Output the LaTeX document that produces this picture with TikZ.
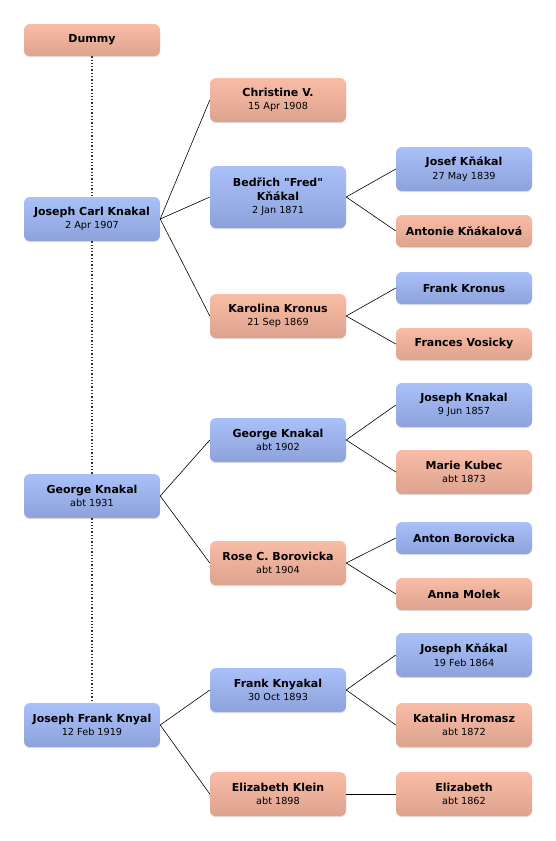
\documentclass[tikz,border=0pt]{standalone}
\usepackage{fontspec}
\setmainfont{DejaVu Sans}
\usetikzlibrary{shadows}
\definecolor{pinktop}{HTML}{F9BCA6}
\definecolor{pinkbot}{HTML}{DDA38E}
\definecolor{bluetop}{HTML}{AAC0F8}
\definecolor{bluebot}{HTML}{8DA2DB}
\definecolor{spinegray}{HTML}{333333}

\newcommand{\who}[2]{#1\\{\fontsize{9.7}{12}\selectfont\mdseries #2}}

\begin{document}
\begin{tikzpicture}[
  x=1pt, y=-1pt,
  person/.style={rounded corners=6pt, minimum width=136pt, minimum height=44pt, align=center, inner sep=2pt, text=black, font=\fontsize{11}{13.5}\selectfont\bfseries, drop shadow={shadow xshift=0pt, shadow yshift=-1.2pt, opacity=0.25}},
  female/.style={person, top color=pinktop, bottom color=pinkbot},
  male/.style={person, top color=bluetop, bottom color=bluebot},
  short/.style={minimum height=32pt},
  tall/.style={minimum height=62pt},
  link/.style={draw=black, line width=0.6pt},
  spine/.style={draw=spinegray, dotted, line width=1.3pt}
]
  \useasboundingbox (0,0) rectangle (556,841);

  % first column
  \node[female, short] (dummy) at (92,40) {Dummy};
  \node[male] (jcknakal) at (92,219) {\who{Joseph Carl Knakal}{2 Apr 1907}};
  \node[male] (gknakal) at (92,496) {\who{George Knakal}{abt 1931}};
  \node[male] (jfknyal) at (92,725) {\who{Joseph Frank Knyal}{12 Feb 1919}};

  % second column
  \node[female] (christine) at (278,100) {\who{Christine V.}{15 Apr 1908}};
  \node[male, tall] (bedrich) at (278,197) {\who{Bedřich \textquotedbl Fred\textquotedbl\\Kňákal}{2 Jan 1871}};
  \node[female] (karolina) at (278,316) {\who{Karolina Kronus}{21 Sep 1869}};
  \node[male] (george) at (278,440) {\who{George Knakal}{abt 1902}};
  \node[female] (rose) at (278,563) {\who{Rose C. Borovicka}{abt 1904}};
  \node[male] (fknyakal) at (278,690) {\who{Frank Knyakal}{30 Oct 1893}};
  \node[female] (eklein) at (278,794) {\who{Elizabeth Klein}{abt 1898}};

  % third column
  \node[male] (josef) at (464,169) {\who{Josef Kňákal}{27 May 1839}};
  \node[female, short] (antonie) at (464,231) {Antonie Kňákalová};
  \node[male, short] (fkronus) at (464,288) {Frank Kronus};
  \node[female, short] (frances) at (464,344) {Frances Vosicky};
  \node[male] (jknakal) at (464,405) {\who{Joseph Knakal}{9 Jun 1857}};
  \node[female] (marie) at (464,472) {\who{Marie Kubec}{abt 1873}};
  \node[male, short] (anton) at (464,538) {Anton Borovicka};
  \node[female, short] (anna) at (464,594) {Anna Molek};
  \node[male] (jkn) at (464,655) {\who{Joseph Kňákal}{19 Feb 1864}};
  \node[female] (katalin) at (464,725) {\who{Katalin Hromasz}{abt 1872}};
  \node[female] (elizabeth) at (464,794) {\who{Elizabeth}{abt 1862}};

  % dotted root line
  \draw[spine] (dummy) -- (jcknakal);
  \draw[spine] (jcknakal) -- (gknakal);
  \draw[spine] (gknakal) -- (jfknyal);

  % parent links
  \draw[link] (jcknakal.east) -- (christine.west);
  \draw[link] (jcknakal.east) -- (bedrich.west);
  \draw[link] (jcknakal.east) -- (karolina.west);
  \draw[link] (bedrich.east) -- (josef.west);
  \draw[link] (bedrich.east) -- (antonie.west);
  \draw[link] (karolina.east) -- (fkronus.west);
  \draw[link] (karolina.east) -- (frances.west);
  \draw[link] (gknakal.east) -- (george.west);
  \draw[link] (gknakal.east) -- (rose.west);
  \draw[link] (george.east) -- (jknakal.west);
  \draw[link] (george.east) -- (marie.west);
  \draw[link] (rose.east) -- (anton.west);
  \draw[link] (rose.east) -- (anna.west);
  \draw[link] (jfknyal.east) -- (fknyakal.west);
  \draw[link] (jfknyal.east) -- (eklein.west);
  \draw[link] (fknyakal.east) -- (jkn.west);
  \draw[link] (fknyakal.east) -- (katalin.west);
  \draw[link] (eklein.east) -- (elizabeth.west);
\end{tikzpicture}
\end{document}
